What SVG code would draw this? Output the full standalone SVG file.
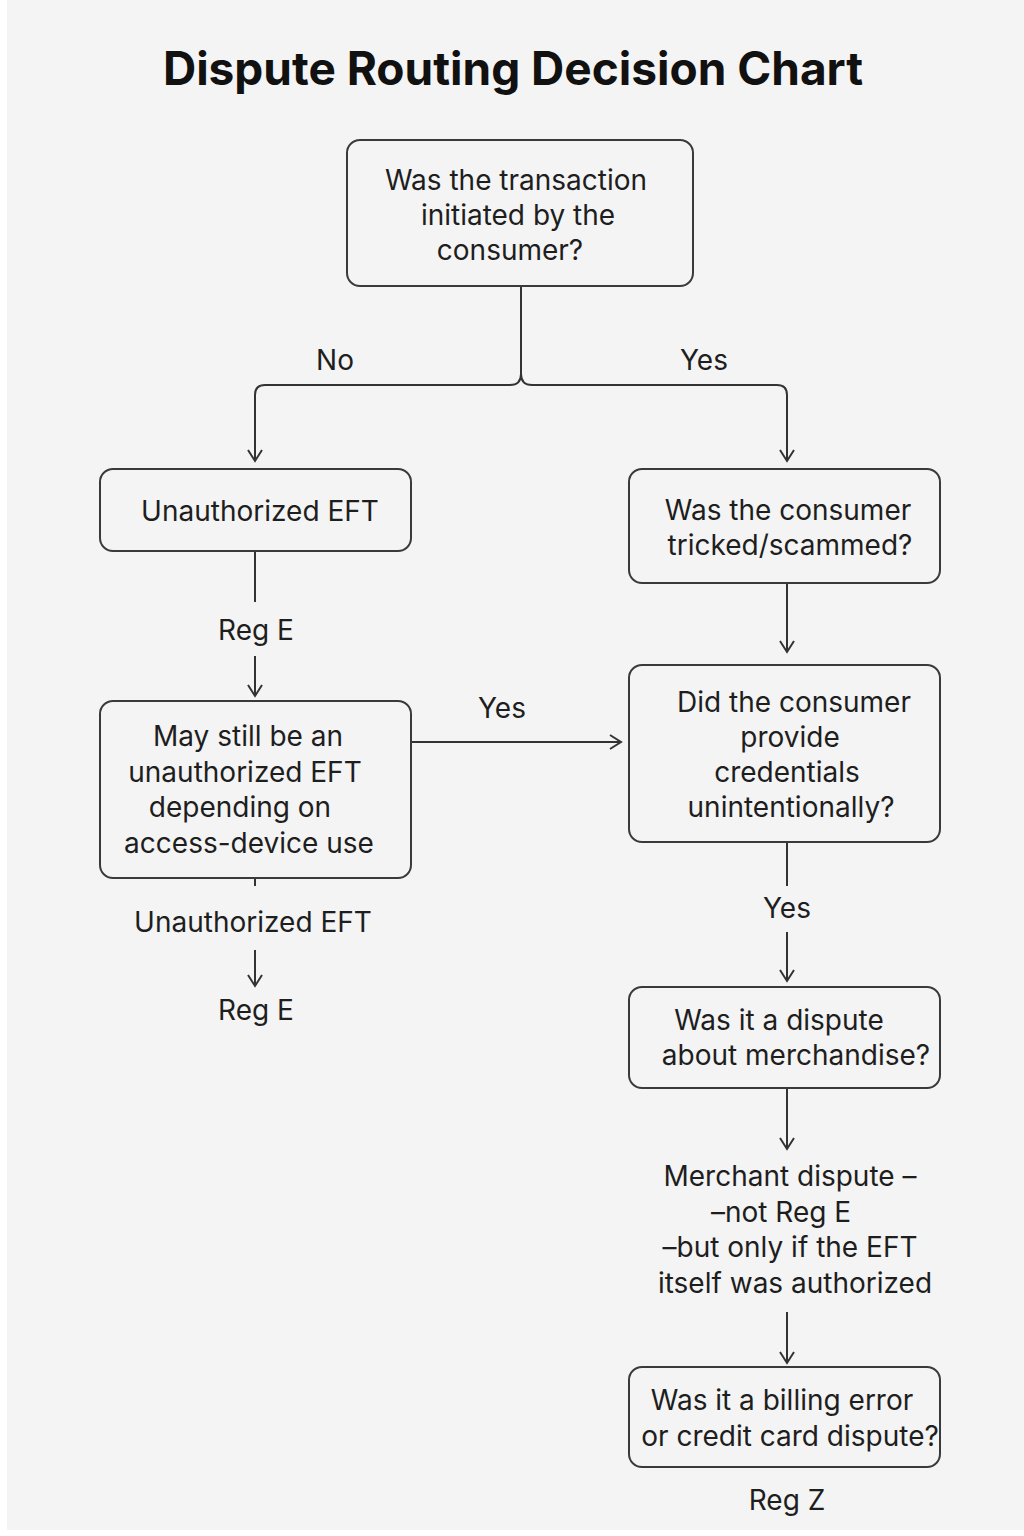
<svg xmlns="http://www.w3.org/2000/svg" width="1024" height="1536" viewBox="0 0 1024 1536">
<defs>
<style>
.bg{fill:#f4f4f4}
.node rect{fill:#f4f4f4;stroke:#3a3a3a;stroke-width:2}
text{font-family:Inter,"Liberation Sans",sans-serif;font-size:28px;fill:#1e1e1e;text-anchor:middle}
.title{font-size:46px;font-weight:700;fill:#111}
.edge{fill:none;stroke:#333;stroke-width:2}
</style>
<marker id="arr" viewBox="0 0 16 16" refX="14" refY="8" markerWidth="16" markerHeight="16" markerUnits="userSpaceOnUse" orient="auto">
<path d="M3,1 L14,8 L3,15" fill="none" stroke="#333" stroke-width="2"/>
</marker>
</defs>
<rect width="1024" height="1536" fill="#ffffff"/>
<rect class="bg" x="7" y="0" width="1017" height="1530"/>
<text class="title" x="513" y="85">Dispute Routing Decision Chart</text>

<g id="connectors">
<path class="edge" d="M521,286 V374 Q521,385 510,385 H265 Q255,385 255,395 V461" marker-end="url(#arr)"/>
<path class="edge" d="M521,374 Q521,385 532,385 H777 Q787,385 787,395 V461" marker-end="url(#arr)"/>
<path class="edge" d="M255,551 V602"/>
<path class="edge" d="M255,656 V696" marker-end="url(#arr)"/>
<path class="edge" d="M255,878 V886"/>
<path class="edge" d="M255,950 V986" marker-end="url(#arr)"/>
<path class="edge" d="M411,742 H621" marker-end="url(#arr)"/>
<path class="edge" d="M787,583 V652" marker-end="url(#arr)"/>
<path class="edge" d="M787,842 V886"/>
<path class="edge" d="M787,932 V981" marker-end="url(#arr)"/>
<path class="edge" d="M787,1088 V1149" marker-end="url(#arr)"/>
<path class="edge" d="M787,1312 V1363" marker-end="url(#arr)"/>
</g>

<g id="labels">
<text x="335" y="370">No</text>
<text x="704" y="370">Yes</text>
<text x="256" y="640">Reg E</text>
<text x="253" y="932">Unauthorized EFT</text>
<text x="256" y="1020">Reg E</text>
<text x="502" y="718">Yes</text>
<text x="787" y="918">Yes</text>
<text x="790" y="1186">Merchant dispute –</text>
<text x="781" y="1222">–not Reg E</text>
<text x="790" y="1257">–but only if the EFT</text>
<text x="795" y="1293">itself was authorized</text>
<text x="787" y="1510">Reg Z</text>
</g>

<g id="n1" class="node">
<rect x="347" y="140" width="346" height="146" rx="13"/>
<text x="516" y="190">Was the transaction</text>
<text x="518" y="225">initiated by the</text>
<text x="510" y="260">consumer?</text>
</g>
<g id="n2" class="node">
<rect x="100" y="469" width="311" height="82" rx="13"/>
<text x="260" y="521">Unauthorized EFT</text>
</g>
<g id="n3" class="node">
<rect x="100" y="701" width="311" height="177" rx="13"/>
<text x="248" y="746">May still be an</text>
<text x="245" y="782">unauthorized EFT</text>
<text x="240" y="817">depending on</text>
<text x="249" y="853">access-device use</text>
</g>
<g id="n4" class="node">
<rect x="629" y="469" width="311" height="114" rx="13"/>
<text x="788" y="520">Was the consumer</text>
<text x="790" y="555">tricked/scammed?</text>
</g>
<g id="n5" class="node">
<rect x="629" y="665" width="311" height="177" rx="13"/>
<text x="794" y="712">Did the consumer</text>
<text x="790" y="747">provide</text>
<text x="787" y="782">credentials</text>
<text x="791" y="817">unintentionally?</text>
</g>
<g id="n6" class="node">
<rect x="629" y="987" width="311" height="101" rx="13"/>
<text x="779" y="1030">Was it a dispute</text>
<text x="796" y="1065">about merchandise?</text>
</g>
<g id="n7" class="node">
<rect x="629" y="1367" width="311" height="100" rx="13"/>
<text x="782" y="1410">Was it a billing error</text>
<text x="790" y="1446">or credit card dispute?</text>
</g>
</svg>
